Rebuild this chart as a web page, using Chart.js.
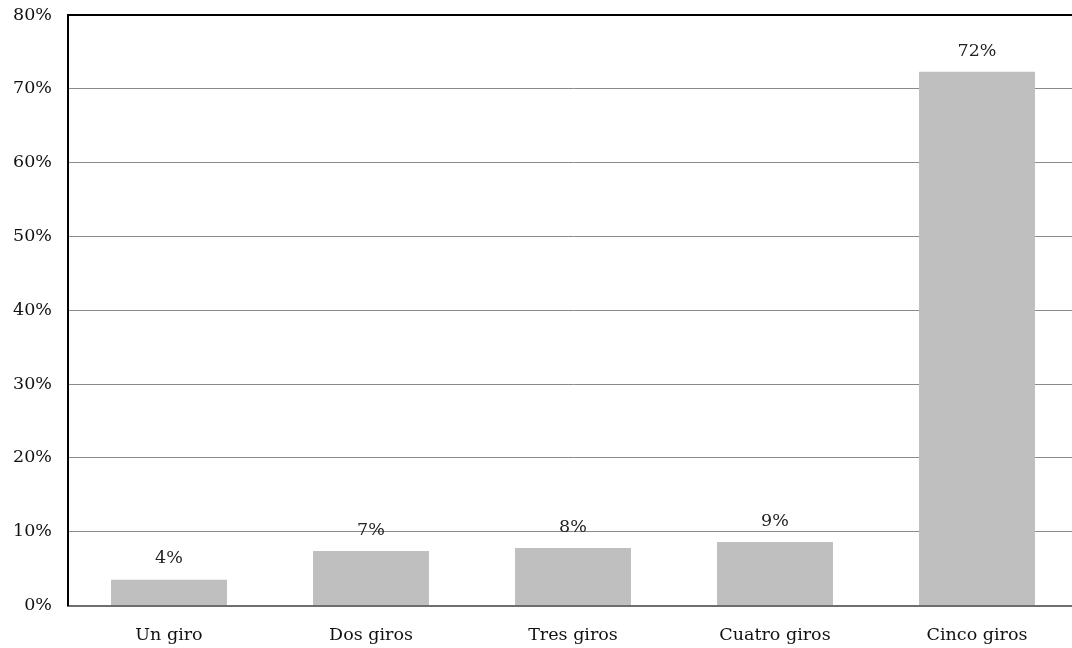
<!DOCTYPE html>
<html>
<head>
<meta charset="utf-8">
<script src="https://cdn.jsdelivr.net/npm/chart.js@4/dist/chart.umd.min.js"></script>
<style>
  html, body { margin: 0; padding: 0; background: #fff; overflow: hidden; }
  #wrap { width: 1080px; height: 648px; }
</style>
</head>
<body>
<div id="wrap"><canvas id="c" width="1080" height="648"></canvas></div>
<script>
const categories = ['Un giro', 'Dos giros', 'Tres giros', 'Cuatro giros', 'Cinco giros'];
const shares = [3.5, 7.4, 7.8, 8.6, 72.3];
const yTicks = [0, 10, 20, 30, 40, 50, 60, 70, 80];

const FONT = { family: "'DejaVu Serif', serif", size: 17.5 };

// value labels above each bar
const barLabels = {
  id: 'barLabels',
  afterDatasetsDraw(chart) {
    const ctx = chart.ctx;
    const meta = chart.getDatasetMeta(0);
    ctx.save();
    ctx.font = FONT.size + 'px ' + FONT.family;
    ctx.fillStyle = '#222';
    ctx.textAlign = 'center';
    ctx.textBaseline = 'bottom';
    meta.data.forEach((bar, i) => {
      ctx.fillText(Math.round(shares[i]) + '%', bar.x, bar.y - 12);
    });
    ctx.restore();
  }
};

new Chart(document.getElementById('c'), {
  type: 'bar',
  data: {
    labels: categories,
    datasets: [{
      data: shares,
      backgroundColor: '#bfbfbf',
      borderWidth: 0,
      categoryPercentage: 1,
      barPercentage: 0.574
    }]
  },
  options: {
    responsive: false,
    animation: false,
    layout: { padding: { top: 15, right: 2, bottom: 0, left: 0 } },
    plugins: { legend: { display: false }, tooltip: { enabled: false } },
    scales: {
      x: {
        grid: { display: false, drawTicks: false },
        border: { color: '#6e6e6e', width: 2 },
        ticks: { color: '#111', font: FONT, padding: 19, maxRotation: 0 },
        afterFit(s) { s.height = 42.5; }
      },
      y: {
        min: 0, max: 80,
        afterBuildTicks(s) { s.ticks = yTicks.map(v => ({ value: v })); },
        grid: {
          drawTicks: false,
          color: ctx => (ctx.tick && ctx.tick.value === 80) ? '#000' : '#8a8a8a',
          lineWidth: ctx => (ctx.tick && ctx.tick.value === 80) ? 2 : 1
        },
        border: { color: '#000', width: 2 },
        ticks: { color: '#111', font: FONT, padding: 16, callback: v => v + '%' },
        afterFit(s) { s.width = 68; s.paddingTop = 0; s.paddingBottom = 0; }
      }
    }
  },
  plugins: [barLabels]
});
</script>
</body>
</html>
